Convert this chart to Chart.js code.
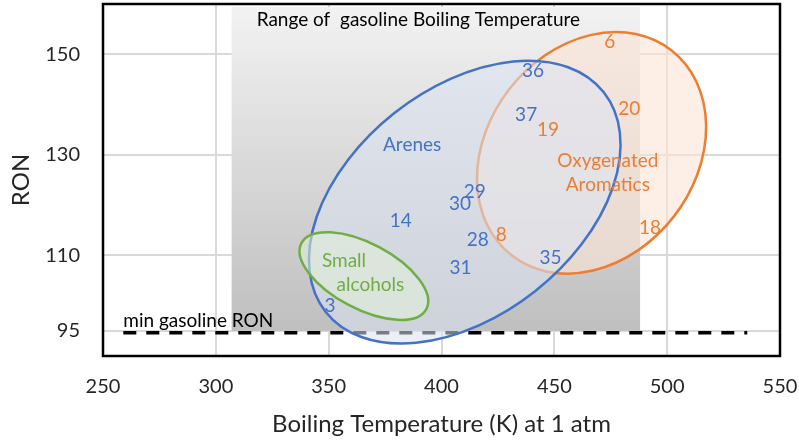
<!DOCTYPE html>
<html>
<head>
<meta charset="utf-8">
<title>RON vs Boiling Temperature</title>
<script src="https://cdn.jsdelivr.net/npm/chart.js@4.4.1/dist/chart.umd.min.js"></script>
<style>
  html, body { margin: 0; padding: 0; background: #fff; }
  #chart-container { width: 799px; height: 441px; }
</style>
</head>
<body>
<div id="chart-container"><canvas id="ronChart" width="799" height="441"></canvas></div>
<script>
// compound number, boiling temperature (K) and RON
const areneIds = ['36', '37', '29', '30', '14', '28', '31', '35', '3'];
const areneBT  = [440.6, 437.5, 414.7, 408.2, 381.9, 416.1, 408.4, 448.3, 350.6];
const areneRON = [146.8, 138.0, 122.7, 120.2, 116.9, 113.0, 107.6, 109.6, 100.0];

const oxyIds = ['6', '20', '19', '8', '18'];
const oxyBT  = [474.6, 483.2, 447.2, 426.5, 492.4];
const oxyRON = [152.5, 139.2, 134.9, 114.0, 115.5];

const xTicks = [250, 300, 350, 400, 450, 500, 550];
const yTicks = [95, 110, 130, 150];

// gasoline boiling range (K) and minimum RON
const gasolineBT = [307, 488];
const minGasolineRON = 95;

const FONT = 'Lato';
const TEXT = '#262626';
const BLUE = '#4472C4';
const ORANGE = '#ED7D31';
const GREEN = '#70AD47';

// groups: centre in data units, semi axes in x-axis units, tilt in degrees
const groups = [
    { cx: 466.5, cy: 130.4, a: 57.6, b: 46.1, tilt: -52, stroke: ORANGE, fill: 'rgba(251,229,214,0.6)' },
    { cx: 410.3, cy: 120.6, a: 78.5, b: 50.3, tilt: -38.3, stroke: BLUE, fill: 'rgba(218,227,243,0.55)' },
    { cx: 365.6, cy: 105.9, a: 31.3, b: 14.5, tilt: 27.85, stroke: GREEN, fill: 'rgba(226,240,217,0.55)' }
];

const groupNotes = [
    { text: 'Arenes', x: 387.0, y: 131.9, color: BLUE },
    { text: 'Small', x: 356.8, y: 109.0, color: GREEN },
    { text: 'alcohols', x: 368.5, y: 104.2, color: GREEN },
    { text: 'Oxygenated', x: 473.7, y: 128.9, color: ORANGE },
    { text: 'Aromatics', x: 473.7, y: 124.0, color: ORANGE }
];

function toPoints(xs, ys) {
    return xs.map((x, i) => ({ x: x, y: ys[i] }));
}

function noPadding(s) {
    s.paddingTop = 0;
    s.paddingBottom = 0;
    s.paddingLeft = 0;
    s.paddingRight = 0;
}

const backgroundPlugin = {
    id: 'gasolineBackground',
    beforeDatasetsDraw(chart) {
        const { ctx, scales: { x, y } } = chart;
        const left = x.getPixelForValue(gasolineBT[0]);
        const right = x.getPixelForValue(gasolineBT[1]);
        const top = y.getPixelForValue(159.4);
        const bottom = y.getPixelForValue(minGasolineRON);

        ctx.save();
        const grad = ctx.createLinearGradient(0, top, 0, bottom);
        grad.addColorStop(0, '#f2f2f2');
        grad.addColorStop(1, '#bfbfbf');
        ctx.fillStyle = grad;
        ctx.fillRect(left, top, right - left, bottom - top);

        ctx.fillStyle = '#000';
        ctx.font = `19px ${FONT}`;
        ctx.textBaseline = 'alphabetic';
        ctx.fillText('Range of  gasoline Boiling Temperature', left + 25, top + 19);

        // min RON dashed line
        ctx.strokeStyle = '#000';
        ctx.lineWidth = 3.5;
        ctx.setLineDash([13, 10]);
        ctx.beginPath();
        ctx.moveTo(x.getPixelForValue(259), bottom + 2);
        ctx.lineTo(x.getPixelForValue(535.5), bottom + 2);
        ctx.stroke();
        ctx.setLineDash([]);
        ctx.font = `19px ${FONT}`;
        ctx.fillText('min gasoline RON', x.getPixelForValue(259), bottom - 4);

        // group ellipses
        const kx = (x.getPixelForValue(550) - x.getPixelForValue(250)) / 300;
        groups.forEach(g => {
            ctx.beginPath();
            ctx.ellipse(x.getPixelForValue(g.cx), y.getPixelForValue(g.cy), g.a * kx, g.b * kx,
                g.tilt * Math.PI / 180, 0, Math.PI * 2);
            ctx.fillStyle = g.fill;
            ctx.fill();
            ctx.strokeStyle = g.stroke;
            ctx.lineWidth = 2.5;
            ctx.stroke();
        });
        ctx.restore();
    }
};

const labelPlugin = {
    id: 'compoundLabels',
    afterDatasetsDraw(chart) {
        const { ctx, scales: { x, y } } = chart;
        ctx.save();
        ctx.textAlign = 'center';
        ctx.textBaseline = 'middle';
        ctx.font = `19px ${FONT}`;
        chart.data.datasets.forEach((ds, i) => {
            ctx.fillStyle = ds.textColor;
            chart.getDatasetMeta(i).data.forEach((pt, j) => {
                ctx.fillText(ds.ids[j], pt.x, pt.y);
            });
        });
        groupNotes.forEach(n => {
            ctx.fillStyle = n.color;
            ctx.fillText(n.text, x.getPixelForValue(n.x), y.getPixelForValue(n.y));
        });
        ctx.restore();
    }
};

const framePlugin = {
    id: 'plotFrame',
    afterDraw(chart) {
        const { ctx, chartArea: a } = chart;
        ctx.save();
        ctx.strokeStyle = '#000';
        ctx.lineWidth = 2.5;
        ctx.strokeRect(a.left, a.top, a.right - a.left, a.bottom - a.top);
        ctx.restore();
    }
};

const ctx = document.getElementById('ronChart').getContext('2d');
new Chart(ctx, {
    type: 'scatter',
    data: {
        datasets: [
            { label: 'Arenes', data: toPoints(areneBT, areneRON), ids: areneIds, textColor: BLUE, pointRadius: 0 },
            { label: 'Oxygenated Aromatics', data: toPoints(oxyBT, oxyRON), ids: oxyIds, textColor: ORANGE, pointRadius: 0 }
        ]
    },
    options: {
        responsive: false,
        animation: false,
        layout: { padding: { top: 4, right: 19, left: 0, bottom: 0 } },
        plugins: {
            legend: { display: false },
            tooltip: { enabled: false }
        },
        scales: {
            x: {
                type: 'linear',
                min: 250,
                max: 550,
                afterBuildTicks: s => { s.ticks = xTicks.map(v => ({ value: v })); },
                afterFit: s => { s.height = 85; noPadding(s); },
                grid: { color: '#d9d9d9', lineWidth: 2, drawTicks: false },
                border: { display: false },
                ticks: { padding: 19, color: TEXT, font: { family: FONT, size: 20 } },
                title: {
                    display: true,
                    text: 'Boiling Temperature (K) at 1 atm',
                    color: TEXT,
                    font: { family: FONT, size: 24 },
                    padding: { top: 0, bottom: 2 }
                }
            },
            y: {
                type: 'linear',
                min: 90,
                max: 160,
                afterBuildTicks: s => { s.ticks = yTicks.map(v => ({ value: v })); },
                afterFit: s => { s.width = 103; noPadding(s); },
                grid: { color: '#d9d9d9', lineWidth: 2, drawTicks: false },
                border: { display: false },
                ticks: { padding: 23, color: TEXT, font: { family: FONT, size: 20 } },
                title: {
                    display: true,
                    text: 'RON',
                    color: TEXT,
                    font: { family: FONT, size: 24 },
                    padding: { top: 7, bottom: 0 }
                }
            }
        }
    },
    plugins: [backgroundPlugin, labelPlugin, framePlugin]
});
</script>
</body>
</html>
